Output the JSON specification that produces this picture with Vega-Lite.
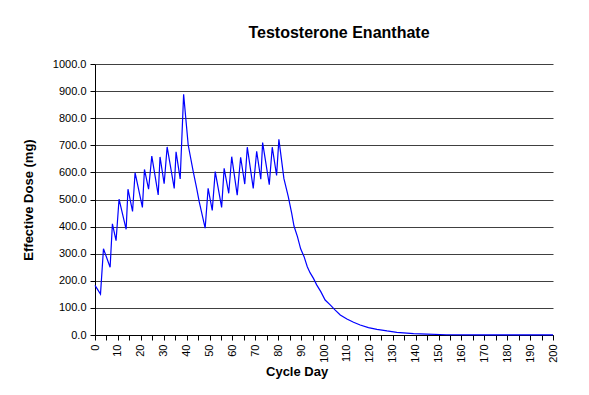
{
  "$schema": "https://vega.github.io/schema/vega-lite/v6.json",
  "width": 458,
  "height": 271,
  "autosize": {"type": "none"},
  "padding": {"left": 95, "top": 64, "right": 36, "bottom": 60},
  "background": "white",
  "title": {
    "text": "Testosterone Enanthate",
    "font": "Liberation Sans",
    "fontSize": 16,
    "fontWeight": "bold",
    "color": "black",
    "anchor": "middle",
    "dx": 15,
    "offset": 17
  },
  "data": {
    "values": [
      {"day": 0, "dose": 183},
      {"day": 2.4, "dose": 151},
      {"day": 3.7, "dose": 318},
      {"day": 6.6, "dose": 250},
      {"day": 7.6, "dose": 410},
      {"day": 9.2, "dose": 348},
      {"day": 10.5, "dose": 501},
      {"day": 13.6, "dose": 390},
      {"day": 14.4, "dose": 538},
      {"day": 16.4, "dose": 456},
      {"day": 17.5, "dose": 599},
      {"day": 20.7, "dose": 471},
      {"day": 21.6, "dose": 611},
      {"day": 23.4, "dose": 538},
      {"day": 24.8, "dose": 660},
      {"day": 27.6, "dose": 517},
      {"day": 28.4, "dose": 657},
      {"day": 30.2, "dose": 558},
      {"day": 31.5, "dose": 694},
      {"day": 34.6, "dose": 541},
      {"day": 35.4, "dose": 676},
      {"day": 37.2, "dose": 576},
      {"day": 38.7, "dose": 888},
      {"day": 40.7, "dose": 701},
      {"day": 42.9, "dose": 603},
      {"day": 44.4, "dose": 541},
      {"day": 45.5, "dose": 492},
      {"day": 48.1, "dose": 394},
      {"day": 49.4, "dose": 541},
      {"day": 51.2, "dose": 460},
      {"day": 52.5, "dose": 603},
      {"day": 55.3, "dose": 471},
      {"day": 56.4, "dose": 615},
      {"day": 58.4, "dose": 523},
      {"day": 59.7, "dose": 658},
      {"day": 62.1, "dose": 516},
      {"day": 63.6, "dose": 656},
      {"day": 65.4, "dose": 557},
      {"day": 66.5, "dose": 693},
      {"day": 69.1, "dose": 541},
      {"day": 70.6, "dose": 678},
      {"day": 72.4, "dose": 575},
      {"day": 73.2, "dose": 710},
      {"day": 76.1, "dose": 555},
      {"day": 77.4, "dose": 693},
      {"day": 79.3, "dose": 589},
      {"day": 80.3, "dose": 722},
      {"day": 82.5, "dose": 577},
      {"day": 84.4, "dose": 511},
      {"day": 85.9, "dose": 449},
      {"day": 86.9, "dose": 402},
      {"day": 88.4, "dose": 363},
      {"day": 89.8, "dose": 318},
      {"day": 91.3, "dose": 289},
      {"day": 92.7, "dose": 252},
      {"day": 93.9, "dose": 230},
      {"day": 95.4, "dose": 209},
      {"day": 96.8, "dose": 185},
      {"day": 98.6, "dose": 160},
      {"day": 100.5, "dose": 129},
      {"day": 102.7, "dose": 111},
      {"day": 104.9, "dose": 92},
      {"day": 107.1, "dose": 74},
      {"day": 110, "dose": 59},
      {"day": 112.9, "dose": 47},
      {"day": 115.8, "dose": 37},
      {"day": 119.4, "dose": 27},
      {"day": 123.1, "dose": 21},
      {"day": 127.5, "dose": 15},
      {"day": 131.8, "dose": 10},
      {"day": 139.1, "dose": 5},
      {"day": 145, "dose": 3},
      {"day": 153.4, "dose": 1},
      {"day": 170, "dose": 0.4},
      {"day": 185, "dose": 0.2},
      {"day": 200, "dose": 0.1}
    ]
  },
  "mark": {"type": "line", "color": "#0000FF", "strokeWidth": 1.2, "clip": false},
  "encoding": {
    "x": {
      "field": "day",
      "type": "quantitative",
      "scale": {"domain": [0, 200], "nice": false, "zero": false},
      "axis": {
        "title": "Cycle Day",
        "values": [0,5,10,15,20,25,30,35,40,45,50,55,60,65,70,75,80,85,90,95,100,105,110,115,120,125,130,135,140,145,150,155,160,165,170,175,180,185,190,195,200],
        "labelExpr": "datum.value % 10 === 0 ? datum.label : ''",
        "labelAngle": -90,
        "labelPadding": 4,
        "grid": false,
        "titleX": 201.6,
        "titlePadding": 3
      }
    },
    "y": {
      "field": "dose",
      "type": "quantitative",
      "scale": {"domain": [0, 1000], "nice": false, "zero": true},
      "axis": {
        "title": "Effective Dose (mg)",
        "values": [0,100,200,300,400,500,600,700,800,900,1000],
        "format": ".1f",
        "grid": true,
        "gridColor": "#404040",
        "gridWidth": 1,
        "gridOpacity": 1,
        "labelPadding": 4,
        "titlePadding": 17
      }
    }
  },
  "config": {
    "view": {"stroke": null},
    "axis": {
      "domainColor": "black",
      "domainWidth": 1,
      "tickColor": "black",
      "tickSize": 5,
      "tickWidth": 1,
      "labelFont": "Liberation Sans",
      "labelFontSize": 11,
      "labelColor": "black",
      "labelFlush": false,
      "labelOverlap": false,
      "titleFont": "Liberation Sans",
      "titleFontSize": 13,
      "titleFontWeight": "bold",
      "titleColor": "black"
    }
  }
}
